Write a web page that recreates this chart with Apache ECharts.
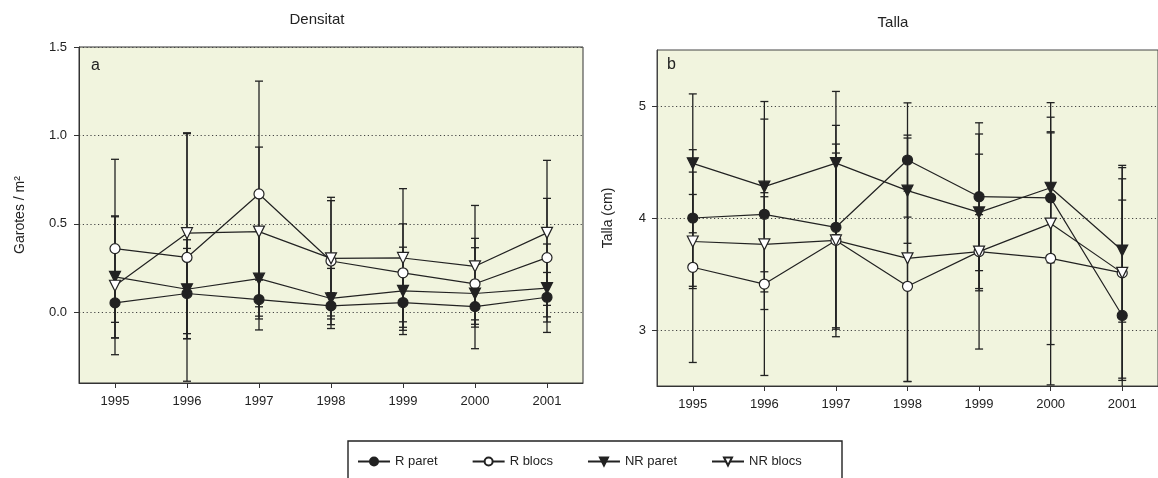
<!DOCTYPE html>
<html>
<head>
<meta charset="utf-8">
<script src="https://cdn.jsdelivr.net/npm/echarts@6/dist/echarts.min.js"></script>
<style>
  html, body { margin: 0; padding: 0; background: #fff; }
  #chart { width: 1158px; height: 478px; }
</style>
</head>
<body>
<div id="chart"></div>
<script>
const years = [1995, 1996, 1997, 1998, 1999, 2000, 2001]
const seriesNames = ['R paret', 'R blocs', 'NR paret', 'NR blocs']

// Densitat (garotes / m2): mitjanes i barres d'error
const densRParet = [0.053, 0.106, 0.072, 0.036, 0.055, 0.032, 0.085]
const densRBlocs = [0.36, 0.31, 0.669, 0.29, 0.223, 0.161, 0.309]
const densNRParet = [0.20, 0.13, 0.19, 0.078, 0.121, 0.106, 0.136]
const densNRBlocs = [0.15, 0.447, 0.456, 0.305, 0.307, 0.26, 0.449]
const densErrRParet = [0.11, 0.255, 0.11, 0.074, 0.157, 0.10, 0.14]
const densErrRBlocs = [0.505, 0.70, 0.638, 0.36, 0.277, 0.204, 0.335]
const densErrNRParet = [0.345, 0.28, 0.29, 0.17, 0.247, 0.312, 0.25]
const densErrNRBlocs = [0.39, 0.568, 0.478, 0.326, 0.392, 0.344, 0.41]

// Talla (cm)
const tallaRParet = [4.00, 4.033, 3.917, 4.518, 4.19, 4.18, 3.13]
const tallaRBlocs = [3.56, 3.41, 3.80, 3.39, 3.70, 3.64, 3.51]
const tallaNRParet = [4.488, 4.28, 4.49, 4.244, 4.05, 4.27, 3.71]
const tallaNRBlocs = [3.79, 3.765, 3.80, 3.64, 3.70, 3.95, 3.51]
const tallaErrRParet = [0.61, 0.85, 0.91, 0.51, 0.66, 0.58, 1.03]
const tallaErrRBlocs = [0.85, 0.816, 0.86, 0.85, 0.87, 1.13, 0.96]
const tallaErrNRParet = [0.62, 0.76, 0.64, 0.47, 0.70, 0.63, 0.64]
const tallaErrNRBlocs = [0.42, 0.425, 0.78, 1.10, 0.33, 1.08, 0.94]

const densTicks = [0, 0.5, 1.0, 1.5]
const tallaTicks = [3, 4, 5]

const ink = '#222'
const font = "'Liberation Sans', Arial, sans-serif"
const plotBg = '#f1f4de'

const markers = {
  'R paret': {symbol: 'circle', size: 10, fill: ink, rotate: 0},
  'R blocs': {symbol: 'circle', size: 10, fill: '#fff', rotate: 0},
  'NR paret': {symbol: 'triangle', size: 11, fill: ink, rotate: 180},
  'NR blocs': {symbol: 'triangle', size: 11, fill: '#fff', rotate: 180}
}

function pairs(vals) {
  return years.map((y, i) => [y, vals[i]])
}

function errData(vals, errs) {
  return years.map((y, i) => [y, vals[i] - errs[i], vals[i] + errs[i]])
}

function renderErr(params, api) {
  const cs = params.coordSys
  const x = api.value(0)
  const top = api.coord([x, api.value(2)])
  const bot = api.coord([x, api.value(1)])
  const y1 = Math.max(top[1], cs.y)
  const y2 = Math.min(bot[1], cs.y + cs.height)
  const w = 4
  const st = {stroke: ink, lineWidth: 1.3}
  const children = [
    {type: 'line', shape: {x1: top[0], y1: y1, x2: top[0], y2: y2}, style: st}
  ]
  if (top[1] >= cs.y) {
    children.push({type: 'line', shape: {x1: top[0] - w, y1: top[1], x2: top[0] + w, y2: top[1]}, style: st})
  }
  if (bot[1] <= cs.y + cs.height) {
    children.push({type: 'line', shape: {x1: bot[0] - w, y1: bot[1], x2: bot[0] + w, y2: bot[1]}, style: st})
  }
  return {type: 'group', children: children}
}

function lineSeries(name, vals, idx) {
  const m = markers[name]
  return {
    name: name,
    type: 'line',
    xAxisIndex: idx,
    yAxisIndex: idx,
    data: pairs(vals),
    symbol: m.symbol,
    symbolSize: m.size,
    symbolRotate: m.rotate,
    showAllSymbol: true,
    color: ink,
    lineStyle: {color: ink, width: 1.2},
    itemStyle: {color: m.fill, borderColor: ink, borderWidth: 1.2},
    emphasis: {disabled: true},
    z: 3
  }
}

function errSeries(name, vals, errs, idx) {
  return {
    name: name,
    type: 'custom',
    xAxisIndex: idx,
    yAxisIndex: idx,
    data: errData(vals, errs),
    renderItem: renderErr,
    silent: true,
    z: 2
  }
}

const dotted = {color: '#444', width: 1.2, type: [1.2, 2.6]}
const labelStyle = {color: ink, fontSize: 13, fontFamily: font}

function xAxis(idx) {
  return {
    type: 'value',
    gridIndex: idx,
    min: 1994.5,
    max: 2001.5,
    axisLine: {show: true, onZero: false, lineStyle: {color: '#333', width: 1}},
    axisTick: {show: true, length: 5, customValues: years, lineStyle: {color: '#333'}},
    axisLabel: Object.assign({customValues: years, margin: 12, formatter: v => String(v)}, labelStyle),
    splitLine: {show: false}
  }
}

const chart = echarts.init(document.getElementById('chart'))

chart.setOption({
  animation: false,
  textStyle: {fontFamily: font},
  title: [
    {text: 'Densitat', left: 317, top: 12, textAlign: 'center', padding: 0,
      textStyle: {fontSize: 15, fontWeight: 'normal', color: ink, fontFamily: font}},
    {text: 'Talla', left: 893, top: 15, textAlign: 'center', padding: 0,
      textStyle: {fontSize: 15, fontWeight: 'normal', color: ink, fontFamily: font}},
    {text: 'a', left: 91, top: 58, padding: 0,
      textStyle: {fontSize: 16, fontWeight: 'normal', color: ink, fontFamily: font}},
    {text: 'b', left: 667, top: 57, padding: 0,
      textStyle: {fontSize: 16, fontWeight: 'normal', color: ink, fontFamily: font}}
  ],
  grid: [
    {left: 79, top: 47, width: 504, height: 336, show: true, backgroundColor: plotBg,
      borderColor: '#333', borderWidth: 1},
    {left: 657, top: 50, width: 504, height: 336, show: true, backgroundColor: plotBg,
      borderColor: '#444', borderWidth: 1}
  ],
  xAxis: [xAxis(0), xAxis(1)],
  yAxis: [
    {
      type: 'value', gridIndex: 0, min: -0.4, max: 1.5,
      name: 'Garotes / m²', nameLocation: 'middle', nameGap: 52, nameRotate: 90,
      nameTextStyle: {color: ink, fontSize: 14, fontFamily: font},
      axisLine: {show: true, onZero: false, lineStyle: {color: '#333'}},
      axisTick: {show: true, length: 5, customValues: densTicks, lineStyle: {color: '#333'}},
      axisLabel: Object.assign({customValues: densTicks, margin: 12, formatter: v => v.toFixed(1)}, labelStyle),
      splitLine: {show: true, lineStyle: dotted}
    },
    {
      type: 'value', gridIndex: 1, min: 2.5, max: 5.5,
      name: 'Talla (cm)', nameLocation: 'middle', nameGap: 42, nameRotate: 90,
      nameTextStyle: {color: ink, fontSize: 14, fontFamily: font},
      axisLine: {show: true, onZero: false, lineStyle: {color: '#444'}},
      axisTick: {show: true, length: 5, customValues: tallaTicks, lineStyle: {color: '#333'}},
      axisLabel: Object.assign({customValues: tallaTicks, margin: 11, formatter: v => String(v)}, labelStyle),
      splitLine: {show: true, lineStyle: dotted}
    }
  ],
  legend: {
    data: seriesNames,
    left: 357,
    top: 455,
    itemWidth: 32,
    itemHeight: 10,
    itemGap: 34,
    padding: 0,
    selectedMode: false,
    textStyle: {color: ink, fontSize: 13, fontFamily: font}
  },
  graphic: [
    {type: 'rect', shape: {x: 348, y: 441, width: 494, height: 60},
      style: {fill: 'none', stroke: ink, lineWidth: 1.4}, silent: true}
  ],
  series: [
    lineSeries('R paret', densRParet, 0),
    lineSeries('R blocs', densRBlocs, 0),
    lineSeries('NR paret', densNRParet, 0),
    lineSeries('NR blocs', densNRBlocs, 0),
    lineSeries('R paret', tallaRParet, 1),
    lineSeries('R blocs', tallaRBlocs, 1),
    lineSeries('NR paret', tallaNRParet, 1),
    lineSeries('NR blocs', tallaNRBlocs, 1),
    errSeries('R paret', densRParet, densErrRParet, 0),
    errSeries('R blocs', densRBlocs, densErrRBlocs, 0),
    errSeries('NR paret', densNRParet, densErrNRParet, 0),
    errSeries('NR blocs', densNRBlocs, densErrNRBlocs, 0),
    errSeries('R paret', tallaRParet, tallaErrRParet, 1),
    errSeries('R blocs', tallaRBlocs, tallaErrRBlocs, 1),
    errSeries('NR paret', tallaNRParet, tallaErrNRParet, 1),
    errSeries('NR blocs', tallaNRBlocs, tallaErrNRBlocs, 1)
  ]
})
</script>
</body>
</html>
